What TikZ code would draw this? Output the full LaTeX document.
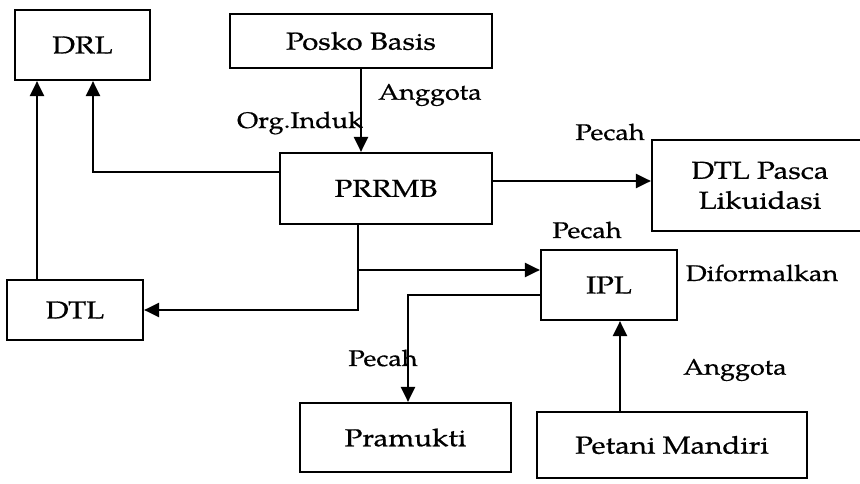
\documentclass[tikz,border=0pt]{standalone}
\usepackage{fontspec}
\setmainfont[FakeStretch=1.2,FakeBold=0.6]{TeX Gyre Pagella}
\usetikzlibrary{arrows.meta}
\begin{document}
\begin{tikzpicture}[x=1pt,y=-1pt,
  box/.style={draw,line width=2.2pt,rectangle,inner sep=0pt,align=center,font=\fontsize{24.5}{30}\selectfont},
  lbl/.style={inner sep=0pt,font=\fontsize{22.5}{26}\selectfont},
  arr/.style={line width=2.2pt,-{Triangle[length=15pt,width=14pt]}}]
\useasboundingbox (0,0) rectangle (860,484);
\node[box,minimum width=135pt,minimum height=70pt] (drl) at (82.5,45) {DRL};
\node[box,minimum width=262pt,minimum height=54pt] (posko) at (361,41) {Posko Basis};
\node[box,minimum width=212pt,minimum height=71pt] (prrmb) at (386,188.5) {PRRMB};
\node[box,minimum width=216pt,minimum height=91pt] (dtlp) at (760,185.5) {DTL Pasca\\Likuidasi};
\node[box,minimum width=136pt,minimum height=70pt] (ipl) at (609,285) {IPL};
\node[box,minimum width=136pt,minimum height=60pt] (dtl) at (75,310) {DTL};
\node[box,minimum width=211pt,minimum height=69pt] (pram) at (405.5,437.5) {Pramukti};
\node[box,minimum width=270pt,minimum height=66pt] (pet) at (672,445) {Petani Mandiri};

\coordinate (c1) at (93,172);
\coordinate (c2) at (358,310);
\coordinate (c3) at (358,270);
\coordinate (c4) at (408,295);

\draw[arr] (posko.south) -- (posko.south |- prrmb.north);
\draw[arr] (prrmb.west |- c1) -- (c1) -- (c1 |- drl.south);
\draw[arr] (dtl.north -| 37,0) -- (drl.south -| 37,0);
\draw[arr] (prrmb.south -| c2) -- (c2) -- (dtl.east |- c2);
\draw[arr] (c3) -- (ipl.west |- c3);
\draw[arr] (ipl.west |- c4) -- (c4) -- (c4 |- pram.north);
\draw[arr] (pet.north -| 620,0) -- (ipl.south -| 620,0);
\draw[arr] (prrmb.east |- 0,181) -- (dtlp.west |- 0,181);

\node[lbl] (l1) at (430,95) {Anggota};
\node[lbl] (l2) at (300,123) {Org.Induk};
\node[lbl] (l3) at (610,132) {Pecah};
\node[lbl] (l4) at (587,230) {Pecah};
\node[lbl] (l5) at (762,273) {Diformalkan};
\node[lbl] (l6) at (735,370) {Anggota};
\node[lbl] (l7) at (383,358) {Pecah};
\end{tikzpicture}
\end{document}
